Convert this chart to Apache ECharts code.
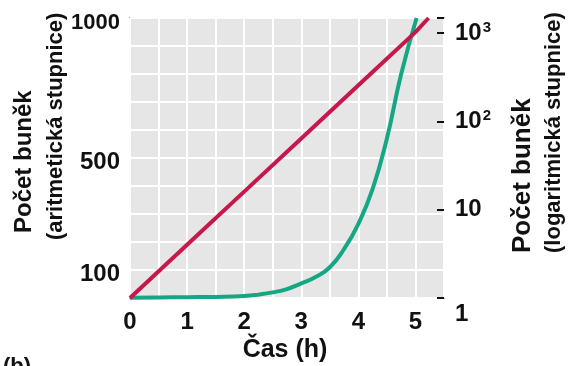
<!DOCTYPE html>
<html><head><meta charset="utf-8">
<script src="https://cdn.jsdelivr.net/npm/echarts@6/dist/echarts.min.js"></script>
<style>html,body{margin:0;padding:0;background:#fff}#c{width:568px;height:366px}</style>
</head><body><div id="c"></div>
<script>
// Data
const greenHours = [0, 0.5, 1, 1.5, 2, 2.25, 2.5, 2.75, 3, 3.25, 3.5, 3.75, 4, 4.25, 4.5, 4.75, 5.02];
const greenCells = [1, 2, 3, 4, 7, 12, 20, 32, 52, 75, 110, 175, 265, 390, 570, 800, 1000];
const redHours = [0, 1, 2, 3, 4, 5, 5.23];
const redCells = [1, 4, 16, 64, 256, 1024, 1479];
const xTickLabels = [0, 1, 2, 3, 4, 5];
const leftTickLabels = [100, 500, 1000];
const rightTickLabels = [1, 10, 100, 1000];
const xTitle = 'Čas (h)';
const yTitle = 'Počet buněk';
const leftSub = '(aritmetická stupnice)';
const rightSub = '(logaritmická stupnice)';

const FONT = '"Liberation Sans", Arial, Helvetica, sans-serif';
const TXT = '#111';

const chart = echarts.init(document.getElementById('c'), null, {renderer: 'canvas'});
const pairs = (xs, ys) => xs.map((x, i) => [x, ys[i]]);
const supMap = {1: '', 10: '', 100: '2', 1000: '3'};

chart.setOption({
  animation: false,
  grid: {left: 130, right: 124, top: 18, bottom: 68, show: true,
    backgroundColor: '#e6e6e6', borderColor: '#5a5a5a', borderWidth: 1.5},
  xAxis: {
    type: 'value', min: 0, max: 5.5, interval: 0.5,
    axisLine: {show: false}, axisTick: {show: false},
    splitLine: {show: true, lineStyle: {color: '#ffffff', width: 2}},
    axisLabel: {
      margin: 12, fontFamily: FONT, fontWeight: 'bold', fontSize: 24, color: TXT,
      formatter: v => xTickLabels.includes(v) ? String(v) : ''
    }
  },
  yAxis: [{
    type: 'value', min: 0, max: 1000, interval: 100, position: 'left',
    axisLine: {show: false}, axisTick: {show: false},
    splitLine: {show: true, lineStyle: {color: '#ffffff', width: 2}},
    axisLabel: {
      margin: 10, fontFamily: FONT, fontWeight: 'bold', fontSize: 24, color: TXT,
      padding: [9, 0, 0, 0],
      formatter: v => leftTickLabels.includes(v) ? (v === 1000 ? '{s|1000}' : String(v)) : '',
      rich: {s: {fontFamily: FONT, fontWeight: 'bold', fontSize: 22, color: TXT}}
    }
  }, {
    type: 'log', logBase: 10, min: 1, max: 1479, position: 'right',
    axisLine: {show: false},
    axisTick: {show: true, inside: true, length: 7, lineStyle: {color: '#111', width: 2}},
    splitLine: {show: false},
    axisLabel: {
      margin: 11, fontFamily: FONT, fontWeight: 'bold', fontSize: 24, color: TXT,
      formatter: v => {
        const r = Math.round(v);
        if (Math.abs(v - r) > 1e-6 || !rightTickLabels.includes(r)) return '';
        if (r === 1) return '{one|1}';
        if (r === 10) return '{b|10}';
        return '{b|10}{sup|' + supMap[r] + '}';
      },
      rich: {
        b: {fontFamily: FONT, fontWeight: 'bold', fontSize: 24, color: TXT, lineHeight: 26},
        sup: {fontFamily: FONT, fontWeight: 'bold', fontSize: 15, color: TXT, verticalAlign: 'top', lineHeight: 26, padding: [0, 0, 6, 1]},
        one: {fontFamily: FONT, fontWeight: 'bold', fontSize: 24, color: TXT, padding: [32, 0, 0, 0]}
      }
    }
  }],
  series: [{
    type: 'line', name: 'arith', yAxisIndex: 0,
    data: pairs(greenHours, greenCells),
    smooth: 0.5, showSymbol: false, symbol: 'none',
    lineStyle: {color: '#15a683', width: 4}, z: 3
  }, {
    type: 'line', name: 'log', yAxisIndex: 1,
    data: pairs(redHours, redCells),
    showSymbol: false, symbol: 'none',
    lineStyle: {color: '#c8174b', width: 4}, z: 4
  }],
  graphic: [
    {type: 'text', x: 24, y: 233, rotation: Math.PI / 2,
      style: {text: yTitle, fontFamily: FONT, fontWeight: 'bold', fontSize: 24, fill: TXT, align: 'left', verticalAlign: 'middle'}},
    {type: 'text', x: 56, y: 240, rotation: Math.PI / 2,
      style: {text: leftSub, fontFamily: FONT, fontWeight: 'bold', fontSize: 22, fill: TXT, align: 'left', verticalAlign: 'middle'}},
    {type: 'text', x: 523, y: 253, rotation: Math.PI / 2,
      style: {text: yTitle, fontFamily: FONT, fontWeight: 'bold', fontSize: 26, fill: TXT, align: 'left', verticalAlign: 'middle'}},
    {type: 'text', x: 554, y: 253, rotation: Math.PI / 2,
      style: {text: rightSub, fontFamily: FONT, fontWeight: 'bold', fontSize: 22, fill: TXT, align: 'left', verticalAlign: 'middle'}},
    {type: 'text', x: 285, y: 350,
      style: {text: xTitle, fontFamily: FONT, fontWeight: 'bold', fontSize: 25, fill: TXT, align: 'center', verticalAlign: 'middle'}},
    {type: 'text', x: 3, y: 356,
      style: {text: '(b)', fontFamily: FONT, fontWeight: 'bold', fontSize: 22, fill: TXT, align: 'left', verticalAlign: 'top'}}
  ]
});
</script>
</body></html>
